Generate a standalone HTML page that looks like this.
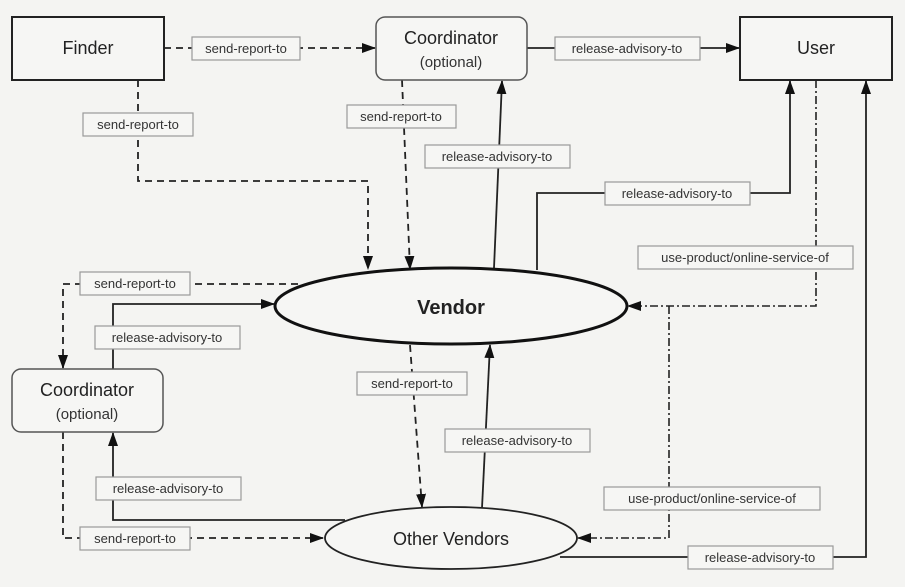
<!DOCTYPE html>
<html><head><meta charset="utf-8"><style>
html,body{margin:0;padding:0;background:#f4f4f2;}
svg{display:block;font-family:"Liberation Sans",Arial,sans-serif;}
.lb rect{fill:#f6f6f4;stroke:#999;stroke-width:1.2}
.lb text{font-size:13px;fill:#333;text-anchor:middle}
.s{fill:none;stroke:#222;stroke-width:1.8}
.d{fill:none;stroke:#222;stroke-width:1.8;stroke-dasharray:7,5}
.dd{fill:none;stroke:#222;stroke-width:1.6;stroke-dasharray:8,3,2,3}
.n{font-size:18px;fill:#222;text-anchor:middle}
</style></head><body>
<svg width="905" height="587" viewBox="0 0 905 587" xmlns="http://www.w3.org/2000/svg">
<defs><marker id="a" markerWidth="14" markerHeight="10" refX="13" refY="5" orient="auto" markerUnits="userSpaceOnUse"><path d="M0,0 L14,5 L0,10 z" fill="#111"/></marker></defs>
<rect width="905" height="587" fill="#f4f4f2"/>

<!-- edges -->
<path class="d" d="M164,48 H375" marker-end="url(#a)"/>
<path class="s" d="M527,48 H739" marker-end="url(#a)"/>
<path class="d" d="M138,80 V181 H368 V269" marker-end="url(#a)"/>
<path class="d" d="M402,80 L410,269" marker-end="url(#a)"/>
<path class="s" d="M494,268 L502,81" marker-end="url(#a)"/>
<path class="s" d="M537,270 V193 H790 V81" marker-end="url(#a)"/>
<path class="dd" d="M816,80 V306 H628" marker-end="url(#a)"/>
<path class="dd" d="M669,306 V538 H578" marker-end="url(#a)"/>
<path class="s" d="M560,557 H866 V81" marker-end="url(#a)"/>
<path class="d" d="M298,284 H63 V368" marker-end="url(#a)"/>
<path class="s" d="M113,369 V304 H274" marker-end="url(#a)"/>
<path class="d" d="M410,345 L422,507" marker-end="url(#a)"/>
<path class="s" d="M482,508 L490,345" marker-end="url(#a)"/>
<path class="s" d="M345,520 H113 V433" marker-end="url(#a)"/>
<path class="d" d="M63,432 V538 H323" marker-end="url(#a)"/>

<!-- nodes -->
<rect x="12" y="17" width="152" height="63" fill="#f6f6f4" stroke="#222" stroke-width="2"/>
<text class="n" x="88" y="54">Finder</text>
<rect x="376" y="17" width="151" height="63" rx="9" fill="#f6f6f4" stroke="#555" stroke-width="1.5"/>
<text class="n" x="451" y="44">Coordinator</text>
<text x="451" y="67" font-size="15" fill="#333" text-anchor="middle">(optional)</text>
<rect x="740" y="17" width="152" height="63" fill="#f6f6f4" stroke="#222" stroke-width="2"/>
<text class="n" x="816" y="54">User</text>
<rect x="12" y="369" width="151" height="63" rx="9" fill="#f6f6f4" stroke="#555" stroke-width="1.5"/>
<text class="n" x="87" y="396">Coordinator</text>
<text x="87" y="419" font-size="15" fill="#333" text-anchor="middle">(optional)</text>
<ellipse cx="451" cy="306" rx="176" ry="38" fill="#f6f6f4" stroke="#111" stroke-width="3"/>
<text x="451" y="314" font-size="20" font-weight="bold" fill="#222" text-anchor="middle">Vendor</text>
<ellipse cx="451" cy="538" rx="126" ry="31" fill="#f6f6f4" stroke="#222" stroke-width="1.8"/>
<text class="n" x="451" y="545">Other Vendors</text>

<!-- labels -->
<g class="lb">
<rect x="192" y="37" width="108" height="23"/><text x="246" y="53">send-report-to</text>
<rect x="555" y="37" width="145" height="23"/><text x="627" y="53">release-advisory-to</text>
<rect x="83" y="113" width="110" height="23"/><text x="138" y="129">send-report-to</text>
<rect x="347" y="105" width="109" height="23"/><text x="401" y="121">send-report-to</text>
<rect x="425" y="145" width="145" height="23"/><text x="497" y="161">release-advisory-to</text>
<rect x="605" y="182" width="145" height="23"/><text x="677" y="198">release-advisory-to</text>
<rect x="638" y="246" width="215" height="23"/><text x="745" y="262">use-product/online-service-of</text>
<rect x="604" y="487" width="216" height="23"/><text x="712" y="503">use-product/online-service-of</text>
<rect x="688" y="546" width="145" height="23"/><text x="760" y="562">release-advisory-to</text>
<rect x="80" y="272" width="110" height="23"/><text x="135" y="288">send-report-to</text>
<rect x="95" y="326" width="145" height="23"/><text x="167" y="342">release-advisory-to</text>
<rect x="357" y="372" width="110" height="23"/><text x="412" y="388">send-report-to</text>
<rect x="445" y="429" width="145" height="23"/><text x="517" y="445">release-advisory-to</text>
<rect x="96" y="477" width="145" height="23"/><text x="168" y="493">release-advisory-to</text>
<rect x="80" y="527" width="110" height="23"/><text x="135" y="543">send-report-to</text>
</g>
</svg>
</body></html>
